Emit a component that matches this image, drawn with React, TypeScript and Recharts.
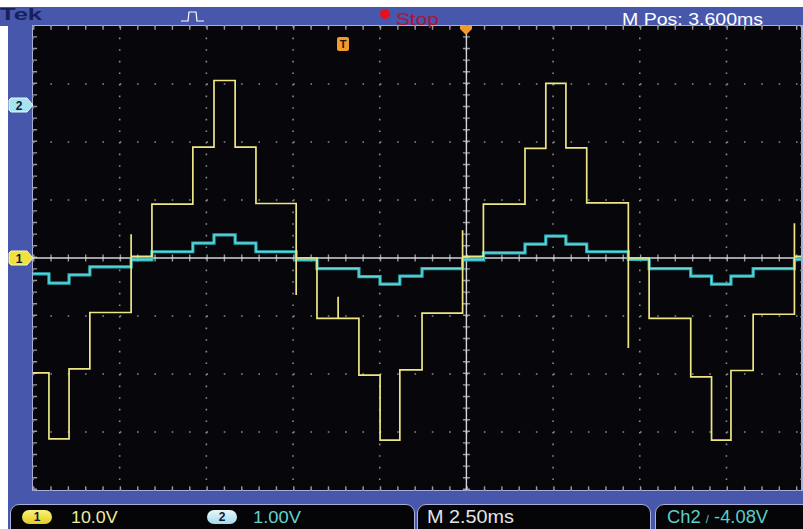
import React from "react";
import { LineChart, Line, XAxis, YAxis, CartesianGrid, ReferenceLine } from "recharts";

// time in ms from the left edge of the screen (2.5 ms per division)
const edgeTimes = [
  0, 0.46, 1.04, 1.64, 2.83, 3.43, 4.61, 5.22, 5.83, 6.43, 7.59, 8.19, 9.4, 10.01, 10.58,
  11.22, 12.39, 12.99, 14.19, 14.79, 15.37, 15.97, 17.17, 17.77, 18.97, 19.57, 20.13,
  20.77, 21.96, 22.15,
];

// CH1 (yellow) step level in volts between edges, 10 V/div
const ch1Levels = [
  -19.8, -31.2, -19.1, -9.4, 0.3, 9.3, 19.1, 30.6, 19.1, 9.4, 0, -10.4, -20.2, -31.4, -19.3,
  -9.5, 0.3, 9.3, 18.9, 30.1, 19, 9.5, 0, -10.4, -20.5, -31.4, -19.4, -9.7, 0.3,
];

// CH2 (cyan) level in volts between edges, 1 V/div
const ch2Levels = [
  -2.91, -3.07, -2.93, -2.79, -2.67, -2.53, -2.38, -2.24, -2.38, -2.53, -2.67, -2.82, -2.96,
  -3.09, -2.95, -2.82, -2.67, -2.55, -2.4, -2.26, -2.4, -2.53, -2.66, -2.82, -2.95, -3.09,
  -2.95, -2.82, -2.66,
];

// switching spikes on CH1
const ch1Spikes = [
  { t: 2.83, v: 4.1 },
  { t: 7.59, v: -6.4 },
  { t: 8.8, v: -6.7 },
  { t: 12.39, v: 4.8 },
  { t: 17.17, v: -15.5 },
  { t: 21.96, v: 6.0 },
];

const timeTicks = [0, 2.5, 5, 7.5, 10, 12.5, 15, 17.5, 20];
const ch1Ticks = [-40, -30, -20, -10, 0, 10, 20, 30, 40];

type Pt = { t: number; v: number };
type Spike = { t: number; v: number };

function buildTrace(levels: number[], spikes: Spike[]): Pt[] {
  const pts: Pt[] = [];
  for (let i = 0; i < levels.length; i++) {
    const a = edgeTimes[i];
    const b = edgeTimes[i + 1];
    const lv = levels[i];
    pts.push({ t: a, v: lv });
    spikes
      .filter((s) => s.t > a + 1e-6 && s.t < b - 1e-6)
      .forEach((s) => {
        pts.push({ t: s.t, v: lv }, { t: s.t, v: s.v }, { t: s.t, v: lv });
      });
    pts.push({ t: b, v: lv });
    const edge = spikes.find((s) => Math.abs(s.t - b) < 1e-6);
    if (edge) pts.push({ t: b, v: edge.v });
  }
  return pts;
}

const ch1Data = buildTrace(ch1Levels, ch1Spikes);
const ch2Data = buildTrace(ch2Levels, []);

const BLUE = "#4757ab";
const LAV = "#a9aedb";
const FONT = "'Liberation Sans', Arial, sans-serif";

const txt = (left: number, top: number, size: number, color: string, sx = 1.2): React.CSSProperties => ({
  position: "absolute",
  left,
  top,
  fontSize: size,
  lineHeight: `${size}px`,
  color,
  fontFamily: FONT,
  whiteSpace: "nowrap",
  transform: `scaleX(${sx})`,
  transformOrigin: "left center",
});

const pill = (left: number, top: number, bg: string): React.CSSProperties => ({
  position: "absolute",
  left,
  top,
  width: 30,
  height: 14,
  borderRadius: 7,
  background: bg,
  color: "#101838",
  fontFamily: FONT,
  fontWeight: "bold",
  fontSize: 12,
  lineHeight: "14px",
  textAlign: "center",
});

const tab = (left: number, width: number): React.CSSProperties => ({
  position: "absolute",
  left,
  top: 504,
  width,
  height: 40,
  borderRadius: 9,
  border: `1.5px solid ${LAV}`,
  background: "#050407",
  boxSizing: "border-box",
});

export default function App() {
  return (
    <div
      style={{
        position: "absolute",
        left: 0,
        top: 0,
        width: 803,
        height: 529,
        overflow: "hidden",
        background: "#ffffff",
      }}
    >
      {/* frame panels */}
      <div style={{ position: "absolute", left: 0, top: 7, width: 803, height: 19, background: BLUE }} />
      <div style={{ position: "absolute", left: 8, top: 7, width: 25, height: 522, background: BLUE }} />
      <div style={{ position: "absolute", left: 8, top: 490, width: 795, height: 39, background: BLUE }} />
      <div style={{ position: "absolute", left: 32, top: 25, width: 771, height: 466, background: LAV }} />

      <div style={tab(10, 405)} />
      <div style={tab(417, 234)} />
      <div style={tab(655, 160)} />

      <div style={{ position: "absolute", left: 0, top: 0 }}>
        <LineChart width={803} height={529} margin={{ top: 26, right: 2, bottom: 39, left: 33 }}>
          <XAxis
            type="number"
            dataKey="t"
            domain={[0, 22.15]}
            ticks={timeTicks}
            allowDataOverflow
            hide
          />
          <YAxis yAxisId="ch1" type="number" domain={[-40, 40]} ticks={ch1Ticks} allowDataOverflow hide />
          <YAxis yAxisId="ch2" type="number" domain={[-6.638, 1.362]} allowDataOverflow hide />
          <CartesianGrid
            yAxisId="ch1"
            horizontal={false}
            fill="#07060a"
            fillOpacity={1}
            stroke="#8c8c8c"
            strokeWidth={1.6}
            strokeDasharray="1.6 10"
          />
          <CartesianGrid
            yAxisId="ch1"
            vertical={false}
            stroke="#8c8c8c"
            strokeWidth={1.6}
            strokeDasharray="1.6 15.74"
          />
          {/* border ticks */}
          <ReferenceLine yAxisId="ch1" x={0.06} stroke="#9a9a9a" strokeWidth={4} strokeDasharray="1.4 10.2" />
          <ReferenceLine yAxisId="ch1" y={39.7} stroke="#9a9a9a" strokeWidth={4} strokeDasharray="1.4 15.94" />
          <ReferenceLine yAxisId="ch1" y={-39.7} stroke="#9a9a9a" strokeWidth={4} strokeDasharray="1.4 15.94" />
          {/* centre cross */}
          <ReferenceLine yAxisId="ch1" x={12.5} stroke="#9a9a9a" strokeWidth={7} strokeDasharray="1.4 10.2" />
          <ReferenceLine yAxisId="ch1" y={0} stroke="#9a9a9a" strokeWidth={7} strokeDasharray="1.4 15.94" />
          <ReferenceLine yAxisId="ch1" x={12.5} stroke="#d4d4dc" strokeWidth={1.4} />
          <ReferenceLine yAxisId="ch1" y={0} stroke="#d4d4dc" strokeWidth={1.4} />

          <Line
            yAxisId="ch2"
            data={ch2Data}
            dataKey="v"
            type="linear"
            stroke="#2cb2bb"
            strokeWidth={3.2}
            dot={false}
            isAnimationActive={false}
          />
          <Line
            yAxisId="ch2"
            data={ch2Data}
            dataKey="v"
            type="linear"
            stroke="#72e0e0"
            strokeWidth={1}
            dot={false}
            isAnimationActive={false}
          />
          <Line
            yAxisId="ch1"
            data={ch1Data}
            dataKey="v"
            type="linear"
            stroke="#eee784"
            strokeWidth={1.7}
            dot={false}
            isAnimationActive={false}
          />
        </LineChart>
      </div>

      {/* top bar */}
      <div style={{ ...txt(0, 6, 17, "#17205c", 1.5), fontWeight: "bold" }}>Tek</div>
      <svg style={{ position: "absolute", left: 180, top: 10 }} width={26} height={14}>
        <polyline points="1,11 8,11 9,2 16,2 17,11 24,11" fill="none" stroke="#ffffff" strokeWidth={1.2} />
      </svg>
      <div
        style={{
          position: "absolute",
          left: 380,
          top: 9,
          width: 10,
          height: 10,
          borderRadius: 5,
          background: "#e8101c",
        }}
      />
      <div style={txt(396, 11.5, 16, "#a3173d", 1.3)}>Stop</div>
      <div style={txt(622, 11.5, 16, "#ffffff", 1.22)}>M Pos: 3.600ms</div>

      {/* markers */}
      <div
        style={{
          position: "absolute",
          left: 337,
          top: 37,
          width: 12,
          height: 14,
          borderRadius: 2,
          background: "#f39a2c",
          color: "#2a1400",
          fontFamily: FONT,
          fontWeight: "bold",
          fontSize: 11,
          lineHeight: "14px",
          textAlign: "center",
        }}
      >
        T
      </div>
      <svg style={{ position: "absolute", left: 460, top: 26 }} width={13} height={10}>
        <polygon points="0,0 12,0 12,3 6,9 0,3" fill="#f39a2c" />
      </svg>
      <svg style={{ position: "absolute", left: 8, top: 97 }} width={26} height={16}>
        <polygon points="1,3 3,1 19,1 25,8 19,15 3,15 1,13" fill="#a6e4ee" stroke="#e8f8fb" strokeWidth={1} />
        <text x={11} y={12.5} textAnchor="middle" fontFamily={FONT} fontWeight="bold" fontSize={12} fill="#101838">
          2
        </text>
      </svg>
      <svg style={{ position: "absolute", left: 8, top: 250 }} width={26} height={16}>
        <polygon points="1,3 3,1 19,1 25,8 19,15 3,15 1,13" fill="#f0e23e" stroke="#fbf6b8" strokeWidth={1} />
        <text x={11} y={12.5} textAnchor="middle" fontFamily={FONT} fontWeight="bold" fontSize={12} fill="#101838">
          1
        </text>
      </svg>

      {/* bottom readouts */}
      <div style={pill(22, 510, "linear-gradient(#fbf27a, #e2cc1e)")}>1</div>
      <div style={txt(71, 509, 17, "#ecec9e", 1.05)}>10.0V</div>
      <div style={pill(207, 510, "linear-gradient(#e6f8fc, #a2dcec)")}>2</div>
      <div style={txt(253, 509, 17, "#62d2cc", 1.08)}>1.00V</div>
      <div style={txt(427, 508, 18, "#e4e4e8", 1.1)}>M 2.50ms</div>
      <div style={txt(667, 508, 18, "#5ccec6", 1.02)}>
        Ch2 <span style={{ fontSize: 11 }}>/</span> -4.08V
      </div>
    </div>
  );
}
